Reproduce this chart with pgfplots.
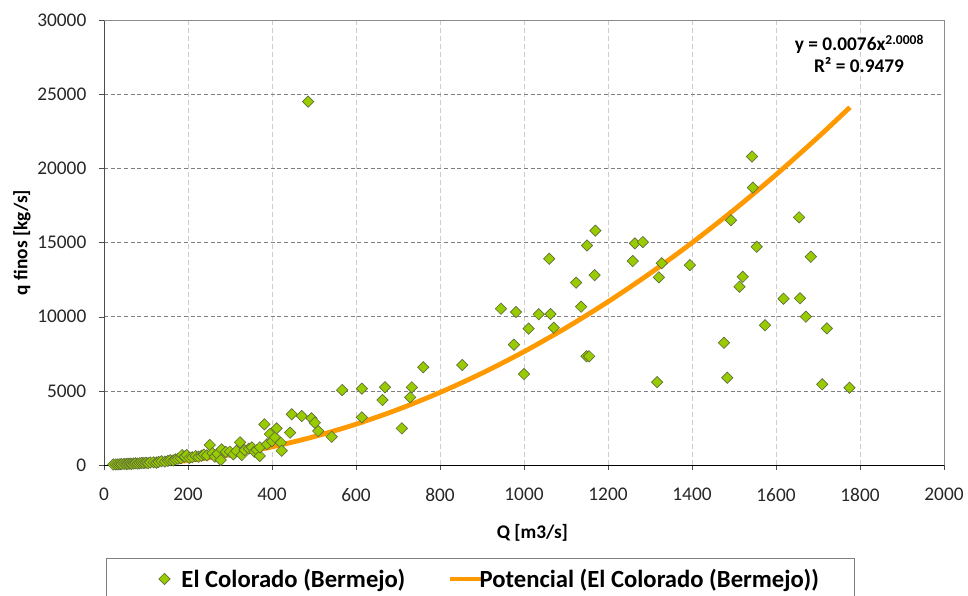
\documentclass[border=0pt]{standalone}
\usepackage{fontspec}
\setmainfont{Carlito}
\usepackage{pgfplots}
\pgfplotsset{compat=1.18}

\definecolor{mkfill}{RGB}{153,204,0}
\definecolor{mkedge}{RGB}{95,110,60}
\definecolor{trendc}{RGB}{255,153,0}

\pgfplotsset{
    legmark/.style={legend image code/.code={\path[use as bounding box, draw=none] (0pt,-1pt) rectangle (18pt,1pt); \draw[##1] plot coordinates {(7.25pt,0pt)};}},
    legline/.style={legend image code/.code={\path[use as bounding box, draw=none] (0pt,-1pt) rectangle (20.5pt,1pt); \draw[##1] (0pt,0pt) -- (23.5pt,0pt);}},
}

\begin{document}
\begin{tikzpicture}
\begin{axis}[
    at={(0pt,0pt)}, anchor=south west,
    scale only axis,
    width=630pt, height=333.75pt,
    xmin=0, xmax=2000, ymin=0, ymax=30000,
    xtick={0,200,...,2000},
    ytick={0,5000,...,30000},
    scaled ticks=false,
    /pgf/number format/.cd, set thousands separator={}, fixed, assume math mode=true,
    /pgfplots/.cd,
    axis x line*=bottom, axis y line*=left,
    axis line style={-},
    x axis line style={black},
    y axis line style={black!70},
    tick align=outside,
    major tick length=3.75pt,
    tick style={black!70},
    grid=major,
    major x grid style={black!20, dash pattern=on 4pt off 2pt},
    major y grid style={black!50, dash pattern=on 3pt off 2pt},
    ticklabel style={font=\fontsize{14.5}{17}\selectfont, text=black!85},
    xticklabel style={anchor=north, yshift=-10pt},
    yticklabel style={anchor=east, xshift=-6pt},
    xlabel={Q [m3/s]},
    ylabel={q finos [kg/s]},
    label style={font=\bfseries\fontsize{14.5}{17}\selectfont},
    xlabel style={at={(axis description cs:0.51,0)}, anchor=center, yshift=-51pt},
    ylabel style={at={(axis description cs:-0.0976,0.5)}, anchor=center},
    clip=false,
    legend columns=2,
    legend cell align=left,
    legend style={
        draw=none, fill=none,
        at={(axis description cs:0.0554,-0.256)}, anchor=west,
        font=\bfseries\fontsize{18.5}{21}\selectfont,
        /tikz/column 2/.style={column sep=31.25pt},
    },
]

% measured points
\addplot[only marks, mark=square*, mark size=3pt,
    mark options={rotate=45, fill=mkfill, draw=mkedge, line width=0.5pt}, legmark]
coordinates {
(22,30) (28,40) (33,45) (38,55) (42,60) (48,70) (53,60) (57,80) (62,90) (66,75)
(71,100) (75,110) (80,95) (85,120) (90,140) (95,130) (100,150) (105,120) (110,170) (118,180)
(125,160) (130,210) (137,250) (145,230) (152,280) (158,320) (165,300) (170,380) (176,420) (183,450)
(186,670) (192,560) (197,670) (203,480) (210,520) (218,600) (225,550) (232,620) (238,700) (245,650)
(252,1350) (258,800) (264,560) (270,750) (278,340) (280,1050) (290,880) (300,900) (308,720) (315,950)
(324,1530) (328,670) (335,1000) (345,1100) (352,1190) (358,900) (364,1010) (371,610) (371,1190) (382,2740)
(388,1400) (395,2090) (400,1600) (407,1870) (411,2470) (421,1500) (423,960) (443,2180) (447,3420) (471,3300)
(494,3150) (502,2850) (510,2290) (542,1905) (567,5055) (614,5145) (614,3210) (663,4380) (669,5240) (709,2470)
(729,4560) (733,5240) (760,6590) (853,6740) (486,24500)
(945,10535) (976,8110) (981,10310) (1000,6130) (1011,9190) (1035,10160) (1063,10180) (1060,13900) (1071,9250) (1124,12290)
(1136,10670) (1149,7330) (1155,7330) (1150,14800) (1170,15800) (1168,12800) (1259,13750) (1264,14940) (1283,15030) (1317,5590)
(1321,12650) (1328,13600) (1395,13480) (1476,8240) (1484,5880) (1493,16500) (1513,12020) (1521,12690) (1543,20800) (1545,18700)
(1554,14710) (1574,9420) (1618,11210) (1655,16700) (1657,11240) (1671,10000) (1683,14040) (1710,5440) (1721,9210) (1775,5210)
};
\addlegendentry{El Colorado (Bermejo)}

% power trend line y = 0.0076 x^2.0008
\addplot[trendc, line width=3.6pt, smooth, legline]
coordinates {
(22,3.7) (50,19.0) (100,76.3) (150,171.8) (200,305.3) (300,687.1) (400,1221.8) (500,1909.5)
(600,2750) (700,3743.5) (800,4890) (900,6189) (1000,7642) (1100,9247.5) (1200,11006)
(1300,12917) (1400,14982) (1500,17201) (1600,19571) (1700,22096) (1776,24115)
};
\addlegendentry{Potencial (El Colorado (Bermejo))}

% plot area border (top and right)
\draw[black!45] (rel axis cs:0,1) -- (rel axis cs:1,1) -- (rel axis cs:1,0);
\end{axis}

% trend equation
\node[anchor=base, font=\bfseries\fontsize{14.5}{16.5}\selectfont] at (566.6pt,310.5pt)
    {y = 0.0076x\textsuperscript{2.0008}};
\node[anchor=base, font=\bfseries\fontsize{14.5}{16.5}\selectfont] at (566.25pt,294pt)
    {R² = 0.9479};

% legend frame
\draw[black!50] (1.5pt,-69.75pt) rectangle (562.5pt,-110pt);

\pgfresetboundingbox
\path[use as bounding box] (-78pt,-98.25pt) rectangle (648pt,348.75pt);
\end{tikzpicture}
\end{document}
